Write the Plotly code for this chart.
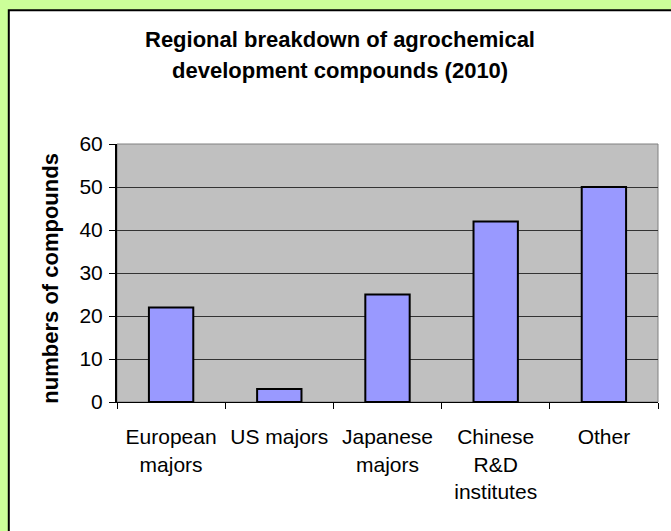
import plotly.graph_objects as go

# Data
categories = ["European<br>majors", "US majors", "Japanese<br>majors",
              "Chinese<br>R&D<br>institutes", "Other"]
compounds = [22, 3, 25, 42, 50]
y_ticks = [0, 10, 20, 30, 40, 50, 60]

title_lines = ["Regional breakdown of agrochemical",
               "development compounds (2010)"]
y_title = "numbers of compounds"

FONT = "Liberation Sans, Arial, sans-serif"

fig = go.Figure(
    go.Bar(
        x=categories,
        y=compounds,
        marker=dict(color="#9999FF", line=dict(color="#000000", width=2)),
        width=0.41,
        hoverinfo="x+y",
    )
)

# Chart frame: light green page, white chart area with black border,
# grey plot area behind the bars
shapes = [
    dict(type="rect", xref="paper", yref="paper", layer="below",
         x0=-0.2, x1=1.05, y0=-0.6, y1=1.518,
         fillcolor="#FFFFFF", line=dict(color="#000000", width=2)),
    dict(type="rect", xref="paper", yref="paper", layer="below",
         x0=0, x1=1, y0=0, y1=1,
         fillcolor="#C0C0C0", line=dict(color="#808080", width=1)),
]

annotations = [
    dict(text=title_lines[0], xref="paper", yref="paper", x=0.412, y=1.405,
         xanchor="center", yanchor="middle", showarrow=False,
         font=dict(family=FONT, size=22, color="#000000")),
    dict(text=title_lines[1], xref="paper", yref="paper", x=0.412, y=1.285,
         xanchor="center", yanchor="middle", showarrow=False,
         font=dict(family=FONT, size=22, color="#000000")),
    dict(text=y_title, xref="paper", yref="paper", x=-0.122, y=0.482,
         xanchor="center", yanchor="middle", textangle=-90, showarrow=False,
         font=dict(family=FONT, size=22, color="#000000")),
]
for a in annotations:
    a["text"] = "<b>" + a["text"] + "</b>"

fig.update_layout(
    width=671, height=531,
    margin=dict(l=117, r=13, t=144, b=129),
    paper_bgcolor="#CCFF99",
    plot_bgcolor="rgba(0,0,0,0)",
    showlegend=False,
    shapes=shapes,
    annotations=annotations,
    font=dict(family=FONT, size=20, color="#000000"),
    bargap=0.59,
)

fig.update_xaxes(
    type="category",
    tickson="boundaries",
    ticks="outside", ticklen=6, tickcolor="#000000", tickwidth=1,
    ticklabelstandoff=16,
    showline=True, linecolor="#000000", linewidth=1,
    showgrid=False, zeroline=False,
    tickfont=dict(family=FONT, size=21, color="#000000"),
)

fig.update_yaxes(
    range=[0, 60],
    tickvals=y_ticks,
    ticks="outside", ticklen=6, tickcolor="#000000", tickwidth=1,
    ticklabelstandoff=2,
    showline=True, linecolor="#000000", linewidth=2,
    showgrid=True, gridcolor="#333333", gridwidth=1,
    zeroline=False,
    tickfont=dict(family=FONT, size=21, color="#000000"),
)

fig.write_html("out.html")
